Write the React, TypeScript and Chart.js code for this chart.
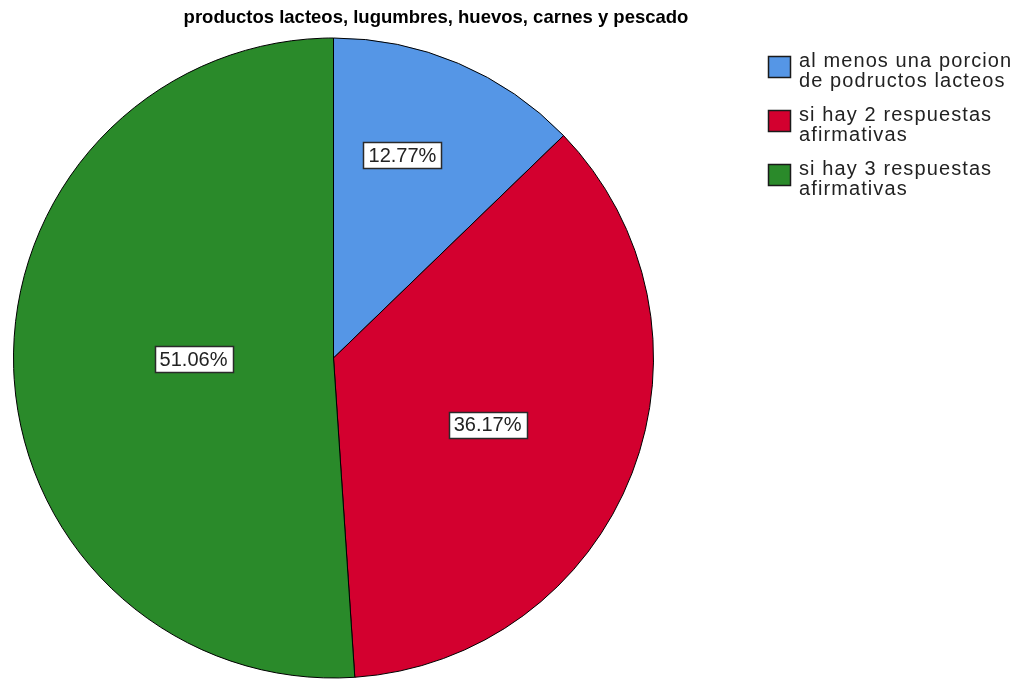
import React, { useEffect, useRef } from "react";
import { Chart, registerables } from "chart.js";

Chart.register(...registerables);

const chartTitle = "productos lacteos, lugumbres, huevos, carnes y pescado";
const categories: string[][] = [
  ["al menos una porcion", "de podructos lacteos"],
  ["si hay 2 respuestas", "afirmativas"],
  ["si hay 3 respuestas", "afirmativas"],
];
const values = [12.77, 36.17, 51.06];
const valueLabels = ["12.77%", "36.17%", "51.06%"];
const sliceColors = ["#5596e6", "#d3002f", "#2a8a2a"];

const FONT = "'Liberation Sans', Arial, sans-serif";

const overlayPlugin = {
  id: "overlay",
  afterDatasetsDraw(chart: any, _args: any, opts: any) {
    const ctx: any = chart.ctx;
    const meta = chart.getDatasetMeta(0);
    ctx.save();

    // value labels
    ctx.font = `${opts.labelSize}px ${FONT}`;
    ctx.textAlign = "center";
    ctx.textBaseline = "middle";
    meta.data.forEach((arc: any, i: number) => {
      const p = arc.getProps(["x", "y", "startAngle", "endAngle", "outerRadius"], true);
      const mid = (p.startAngle + p.endAngle) / 2 + (opts.angleOffsets[i] * Math.PI) / 180;
      const r = p.outerRadius * opts.radiusFactors[i];
      const cx = p.x + Math.cos(mid) * r;
      const cy = p.y + Math.sin(mid) * r;
      const text = valueLabels[i];
      const w = Math.round(ctx.measureText(text).width + 10);
      const h = 26;
      const bx = Math.round(cx - w / 2) + 0.5;
      const by = Math.round(cy - h / 2) + 0.5;
      ctx.fillStyle = "#ffffff";
      ctx.fillRect(bx, by, w, h);
      ctx.strokeStyle = "#2a2a2a";
      ctx.lineWidth = 1.5;
      ctx.strokeRect(bx, by, w, h);
      ctx.fillStyle = "#222222";
      ctx.fillText(text, cx, cy + 1);
    });

    // title
    ctx.font = `bold ${opts.titleSize}px ${FONT}`;
    ctx.textAlign = "center";
    ctx.textBaseline = "alphabetic";
    ctx.fillStyle = "#000000";
    ctx.fillText(chartTitle, opts.titleX, opts.titleY);

    // legend
    ctx.font = `${opts.legendSize}px ${FONT}`;
    ctx.textAlign = "left";
    ctx.letterSpacing = `${opts.legendSpacing}px`;
    categories.forEach((lines, i) => {
      const top = opts.legendTop + i * opts.legendStep;
      ctx.fillStyle = sliceColors[i];
      ctx.fillRect(opts.legendX + 0.5, top + 0.5, 22, 21);
      ctx.strokeStyle = "#1a1a1a";
      ctx.lineWidth = 1.5;
      ctx.strokeRect(opts.legendX + 0.5, top + 0.5, 22, 21);
      ctx.fillStyle = "#222222";
      lines.forEach((ln, j) => {
        ctx.fillText(ln, opts.legendX + 31, top + 11 + j * opts.legendLine);
      });
    });

    ctx.restore();
  },
};

export default function App() {
  const ref = useRef<HTMLCanvasElement | null>(null);

  useEffect(() => {
    document.body.style.margin = "0";
    if (!ref.current) return;
    const chart = new Chart(ref.current, {
      type: "pie",
      data: {
        labels: categories.map((c) => c.join(" ")),
        datasets: [
          {
            data: values,
            backgroundColor: sliceColors,
            borderColor: "#000000",
            borderWidth: 1,
          },
        ],
      },
      options: {
        responsive: false,
        animation: false,
        layout: { padding: { left: 13, right: 375, top: 37, bottom: 0 } },
        plugins: {
          legend: { display: false },
          title: { display: false },
          tooltip: { enabled: false },
          overlay: {
            labelSize: 20,
            radiusFactors: [0.669, 0.525, 0.4375],
            angleOffsets: [-4.2, 2.4, 1.5],
            titleSize: 18.5,
            titleX: 436,
            titleY: 23,
            legendSize: 20,
            legendSpacing: 1.1,
            legendX: 768,
            legendTop: 56,
            legendStep: 54,
            legendLine: 20,
          },
        } as any,
      },
      plugins: [overlayPlugin],
    });
    return () => chart.destroy();
  }, []);

  return (
    <div style={{ width: 1029, height: 679, background: "#ffffff" }}>
      <canvas ref={ref} width={1029} height={679} style={{ display: "block" }} />
    </div>
  );
}
